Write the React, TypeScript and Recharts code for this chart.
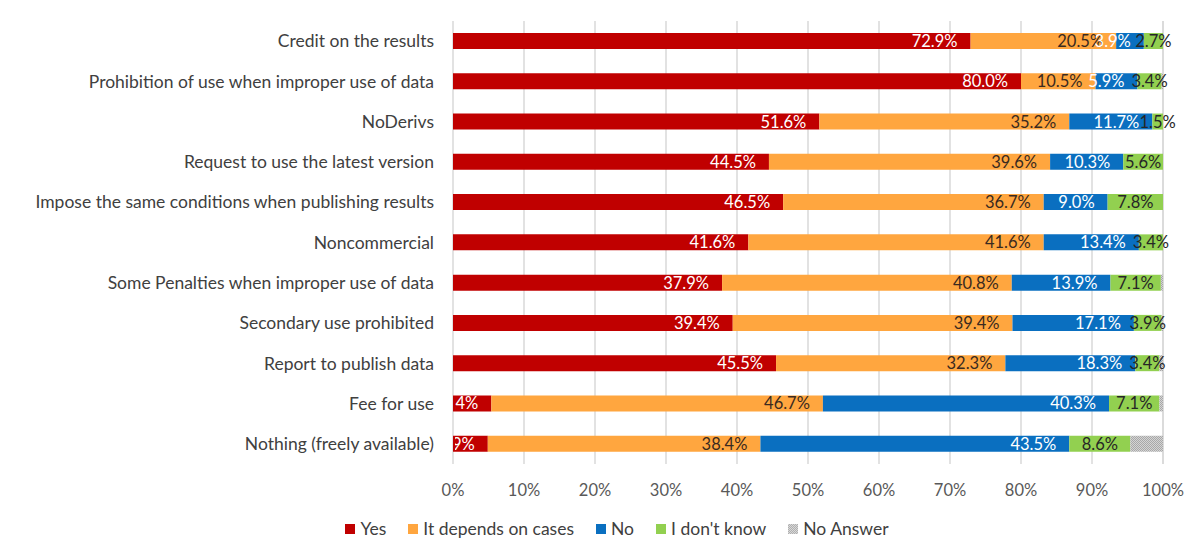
import { Bar, BarChart, CartesianGrid, LabelList, Legend, XAxis, YAxis } from 'recharts';

const categories = [
  'Credit on the results',
  'Prohibition of use when improper use of data',
  'NoDerivs',
  'Request to use the latest version',
  'Impose the same conditions when publishing results',
  'Noncommercial',
  'Some Penalties when improper use of data',
  'Secondary use prohibited',
  'Report to publish data',
  'Fee for use',
  'Nothing (freely available)',
];

const yes = [72.9, 80.0, 51.6, 44.5, 46.5, 41.6, 37.9, 39.4, 45.5, 5.4, 4.9];
const depends = [20.5, 10.5, 35.2, 39.6, 36.7, 41.6, 40.8, 39.4, 32.3, 46.7, 38.4];
const no = [3.9, 5.9, 11.7, 10.3, 9.0, 13.4, 13.9, 17.1, 18.3, 40.3, 43.5];
const dontKnow = [2.7, 3.4, 1.5, 5.6, 7.8, 3.4, 7.1, 3.9, 3.4, 7.1, 8.6];
const noAnswer = [0, 0.2, 0, 0, 0, 0, 0.3, 0.2, 0.5, 0.5, 4.6];

const xTicks = [0, 10, 20, 30, 40, 50, 60, 70, 80, 90, 100];

const data = categories.map((name, i) => ({
  name,
  yes: yes[i],
  depends: depends[i],
  no: no[i],
  dontKnow: dontKnow[i],
  noAnswer: noAnswer[i],
}));

const FONT = 'Lato, "Open Sans", sans-serif';
const PLOT_LEFT = 453;

const series = [
  { key: 'yes', name: 'Yes', color: '#C00000', text: '#ffffff', label: 'end' },
  { key: 'depends', name: 'It depends on cases', color: '#FFA63F', text: '#3a2a20', label: 'end' },
  { key: 'no', name: 'No', color: '#0A6FC0', text: '#ffffff', label: 'end' },
  { key: 'dontKnow', name: "I don't know", color: '#92D050', text: '#262626', label: 'center' },
  { key: 'noAnswer', name: 'No Answer', color: 'url(#hatch)', text: '#262626', label: '' },
];

// labels sit at the inside end (or centre) of each segment, clipped at the plot's left edge
function makeLabel(color: string, id: string, pos: string) {
  return (props: any) => {
    const { x, y, width, height, value, index } = props;
    if (!value) return null;
    const clipId = `clip-${id}-${index}`;
    const centered = pos === 'center';
    return (
      <g>
        <defs>
          <clipPath id={clipId}>
            <rect x={PLOT_LEFT + 2} y={y - 6} width={800} height={height + 12} />
          </clipPath>
        </defs>
        <text
          x={centered ? x + width / 2 : x + width - 13}
          y={y + height / 2}
          textAnchor={centered ? 'middle' : 'end'}
          dominantBaseline="central"
          fill={color}
          fontSize={16.5}
          fontFamily={FONT}
          clipPath={`url(#${clipId})`}
        >
          {`${Number(value).toFixed(1)}%`}
        </text>
      </g>
    );
  };
}

function LegendContent() {
  return (
    <div
      style={{
        display: 'flex',
        justifyContent: 'center',
        gap: 22,
        paddingTop: 2,
        paddingLeft: 71,
        fontFamily: FONT,
        fontSize: 17.5,
        lineHeight: '20px',
        color: '#404040',
      }}
    >
      {series.map((s) => (
        <div key={s.key} style={{ display: 'flex', alignItems: 'center', gap: 5 }}>
          <span
            style={{
              width: 10,
              height: 10,
              display: 'inline-block',
              background:
                s.key === 'noAnswer'
                  ? 'repeating-conic-gradient(#b0b0b0 0% 25%, #d8d8d8 0% 50%) 0 0 / 2px 2px'
                  : s.color,
            }}
          />
          <span>{s.name}</span>
        </div>
      ))}
    </div>
  );
}

export default function App() {
  return (
    <div style={{ position: 'absolute', left: 0, top: 0, width: 1200, height: 557, background: '#fff' }}>
      <BarChart
        width={1200}
        height={557}
        data={data}
        layout="vertical"
        barSize={16}
        margin={{ top: 21, right: 37, bottom: 0, left: 0 }}
      >
        <defs>
          <pattern id="hatch" width="2" height="2" patternUnits="userSpaceOnUse">
            <rect width="2" height="2" fill="#d4d4d4" />
            <rect width="1" height="1" fill="#a8a8a8" />
            <rect x="1" y="1" width="1" height="1" fill="#a8a8a8" />
          </pattern>
        </defs>
        <CartesianGrid horizontal={false} stroke="#d9d9d9" strokeWidth={1.5} />
        <XAxis
          type="number"
          domain={[0, 100]}
          ticks={xTicks}
          tickFormatter={(v) => `${v}%`}
          axisLine={false}
          tickLine={false}
          tickSize={0}
          tickMargin={20}
          height={53}
          tick={{ fill: '#595959', fontSize: 16.5, fontFamily: FONT }}
        />
        <YAxis
          type="category"
          dataKey="name"
          width={PLOT_LEFT}
          axisLine={false}
          tickLine={false}
          tickSize={0}
          tickMargin={19}
          interval={0}
          tick={{ fill: '#404040', fontSize: 17.5, fontFamily: FONT }}
        />
        <Legend verticalAlign="bottom" height={40} content={() => <LegendContent />} />
        {series.map((s) => (
          <Bar key={s.key} dataKey={s.key} name={s.name} stackId="a" fill={s.color} isAnimationActive={false}>
            {s.label && <LabelList dataKey={s.key} content={makeLabel(s.text, s.key, s.label)} />}
          </Bar>
        ))}
      </BarChart>
    </div>
  );
}
